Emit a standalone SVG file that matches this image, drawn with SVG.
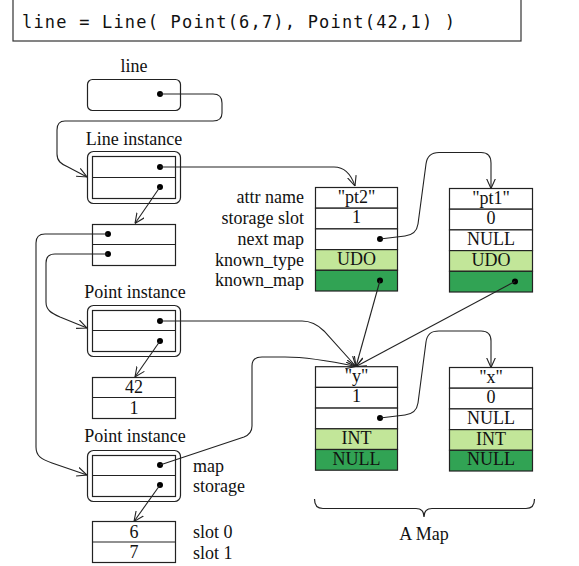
<svg xmlns="http://www.w3.org/2000/svg" width="579" height="566" viewBox="0 0 579 566">
<defs>
<style>
.t{font-family:"Liberation Serif","Times New Roman",serif;font-size:18px;fill:#111}
.c{text-anchor:middle}
.r{text-anchor:end}
.box{fill:#fff;stroke:#222;stroke-width:1.2}
.lt{fill:#c2e699;stroke:#222;stroke-width:1.2}
.dk{fill:#31a354;stroke:#222;stroke-width:1.2}
.rnd{fill:#fff;stroke:#222;stroke-width:1.2}
.ln{fill:none;stroke:#222;stroke-width:1.2}
.cn{fill:none;stroke:#222;stroke-width:1.1;marker-end:url(#ah)}
.dot{fill:#000}
</style>
<marker id="ah" viewBox="0 0 10 10" refX="10" refY="5" markerWidth="10" markerHeight="10" markerUnits="userSpaceOnUse" orient="auto">
<path d="M0,0.5 L10,5 L0,9.5" fill="none" stroke="#222" stroke-width="1.1"/>
</marker>
</defs>
<rect width="579" height="566" fill="#fff"/>

<g id="code">
<rect x="13" y="-5" width="508" height="46" fill="#fff" stroke="#333" stroke-width="1.2"/>
<text x="22" y="28" font-family="'DejaVu Sans Mono','Liberation Mono',monospace" font-size="17" fill="#111" textLength="433" lengthAdjust="spacing">line = Line( Point(6,7), Point(42,1) )</text>
</g>

<g id="line-var">
<text class="t c" x="134" y="72">line</text>
<rect class="rnd" x="87.5" y="79.5" width="93" height="31" rx="5"/>
<circle class="dot" cx="160" cy="94" r="3"/>
</g>

<g id="line-instance">
<text class="t c" x="134" y="145">Line instance</text>
<rect class="rnd" x="87.5" y="151.5" width="93" height="52" rx="6"/>
<rect class="box" x="92.5" y="156.5" width="83" height="42"/>
<line class="ln" x1="92.5" y1="177.5" x2="175.5" y2="177.5"/>
<circle class="dot" cx="160" cy="167" r="3"/>
<circle class="dot" cx="160" cy="187" r="3"/>
</g>

<g id="line-storage">
<rect class="box" x="92.5" y="224.5" width="83" height="41"/>
<line class="ln" x1="92.5" y1="244.5" x2="175.5" y2="244.5"/>
<circle class="dot" cx="108" cy="234" r="3"/>
<circle class="dot" cx="108" cy="254" r="3"/>
</g>

<g id="point-instance-1">
<text class="t c" x="135" y="298">Point instance</text>
<rect class="rnd" x="87.5" y="305.5" width="93" height="51" rx="6"/>
<rect class="box" x="92.5" y="310.5" width="83" height="41"/>
<line class="ln" x1="92.5" y1="330.5" x2="175.5" y2="330.5"/>
<circle class="dot" cx="160" cy="321" r="3"/>
<circle class="dot" cx="160" cy="341" r="3"/>
</g>

<g id="point-storage-1">
<rect class="box" x="92.5" y="377.5" width="83" height="41"/>
<line class="ln" x1="92.5" y1="397.5" x2="175.5" y2="397.5"/>
<text class="t c" x="134" y="393">42</text>
<text class="t c" x="134" y="413.5">1</text>
</g>

<g id="point-instance-2">
<text class="t c" x="135" y="442">Point instance</text>
<rect class="rnd" x="87.5" y="450.5" width="93" height="51" rx="6"/>
<rect class="box" x="92.5" y="455.5" width="83" height="41"/>
<line class="ln" x1="92.5" y1="475.5" x2="175.5" y2="475.5"/>
<circle class="dot" cx="160" cy="465" r="3"/>
<circle class="dot" cx="160" cy="485" r="3"/>
<text class="t" x="193" y="472">map</text>
<text class="t" x="193" y="492">storage</text>
</g>

<g id="point-storage-2">
<rect class="box" x="92.5" y="521.5" width="83" height="41"/>
<line class="ln" x1="92.5" y1="542" x2="175.5" y2="542"/>
<text class="t c" x="134" y="537.5">6</text>
<text class="t c" x="134" y="558">7</text>
<text class="t" x="193" y="538">slot 0</text>
<text class="t" x="193" y="559">slot 1</text>
</g>

<g id="row-labels">
<text class="t r" x="304" y="203">attr name</text>
<text class="t r" x="304" y="224">storage slot</text>
<text class="t r" x="304" y="245">next map</text>
<text class="t r" x="304" y="265.5">known_type</text>
<text class="t r" x="304" y="286">known_map</text>
</g>

<g id="map-pt2">
<rect class="box" x="315.5" y="187.5" width="82" height="20.7"/>
<rect class="box" x="315.5" y="208.2" width="82" height="20.7"/>
<rect class="box" x="315.5" y="228.9" width="82" height="20.7"/>
<rect class="lt" x="315.5" y="249.6" width="82" height="20.7"/>
<rect class="dk" x="315.5" y="270.3" width="82" height="20.7"/>
<text class="t c" x="356.5" y="202.5">"pt2"</text>
<text class="t c" x="356.5" y="223.2">1</text>
<text class="t c" x="356.5" y="264.6">UDO</text>
<circle class="dot" cx="380" cy="239" r="3"/>
<circle class="dot" cx="380" cy="280.5" r="3"/>
</g>

<g id="map-pt1">
<rect class="box" x="449.5" y="188.5" width="83" height="20.7"/>
<rect class="box" x="449.5" y="209.2" width="83" height="20.7"/>
<rect class="box" x="449.5" y="229.9" width="83" height="20.7"/>
<rect class="lt" x="449.5" y="250.6" width="83" height="20.7"/>
<rect class="dk" x="449.5" y="271.3" width="83" height="20.7"/>
<text class="t c" x="491" y="203.5">"pt1"</text>
<text class="t c" x="491" y="224.2">0</text>
<text class="t c" x="491" y="244.9">NULL</text>
<text class="t c" x="491" y="265.6">UDO</text>
<circle class="dot" cx="515" cy="281.5" r="3"/>
</g>

<g id="map-y">
<rect class="box" x="315.5" y="366.7" width="82" height="20.7"/>
<rect class="box" x="315.5" y="387.4" width="82" height="20.7"/>
<rect class="box" x="315.5" y="408.1" width="82" height="20.7"/>
<rect class="lt" x="315.5" y="428.8" width="82" height="20.7"/>
<rect class="dk" x="315.5" y="449.5" width="82" height="20.7"/>
<text class="t c" x="356.5" y="381.7">"y"</text>
<text class="t c" x="356.5" y="402.4">1</text>
<text class="t c" x="356.5" y="443.8">INT</text>
<text class="t c" x="356.5" y="464.5">NULL</text>
<circle class="dot" cx="380" cy="418" r="3"/>
</g>

<g id="map-x">
<rect class="box" x="449.5" y="367.5" width="83" height="20.7"/>
<rect class="box" x="449.5" y="388.2" width="83" height="20.7"/>
<rect class="box" x="449.5" y="408.9" width="83" height="20.7"/>
<rect class="lt" x="449.5" y="429.6" width="83" height="20.7"/>
<rect class="dk" x="449.5" y="450.3" width="83" height="20.7"/>
<text class="t c" x="491" y="382.5">"x"</text>
<text class="t c" x="491" y="403.2">0</text>
<text class="t c" x="491" y="423.9">NULL</text>
<text class="t c" x="491" y="444.6">INT</text>
<text class="t c" x="491" y="465.3">NULL</text>
</g>

<g id="a-map">
<path class="ln" d="M314.5,499 Q314.5,508.5 323,508.5 L416,508.5 Q424,508.5 424,517 Q424,508.5 432,508.5 L526,508.5 Q534.5,508.5 534.5,499"/>
<text class="t c" x="424" y="540">A Map</text>
</g>

<g id="connectors">
<path class="cn" d="M160,94 L213,94 C219,94 222,97 222,103 L222,113 C222,118 219,121 213,121 L65,121 C60,121 57,124 57,130 L57,154 C57,161 61,164 68,167 L87,177"/>
<path class="cn" d="M160,167 L334,167 C345,167 351,174 355,186"/>
<path class="cn" d="M160,187 L135,223.5"/>
<path class="cn" d="M108,234 L45,234 C39,234 36,237 36,243 L36,447 C36,456 41,459 52,463 L87,475"/>
<path class="cn" d="M108,254 L55,254 C49,254 46,257 46,263 L46,302 C46,310 51,313 60,317 L87,328"/>
<path class="cn" d="M160,341 L135,377"/>
<path class="cn" d="M160,485 L134,521.5"/>
<path class="cn" d="M160,321 L302,321 C312,321 318,325 324,331 L356,366.5"/>
<path class="cn" d="M160,465 L244,437 C249,435 252,432 252,426 L252,366 C252,360 255,357 262,357 L285,357 C305,357 330,361 356,366.5"/>
<path class="cn" d="M380,280.5 L356,366.5"/>
<path class="cn" d="M515,281.5 L356,366.5"/>
<path class="cn" d="M380,239 L405,236 C413,235 417,231 418,224 L426,164 C427,156 431,152.5 439,152.5 L481,152.5 C488,152.5 491,156 491,163 L491,188.5"/>
<path class="cn" d="M380,418 L405,415 C413,414 417,410 418,403 L426,342 C427,334 431,331 439,331 L481,331 C488,331 491,334 491,341 L491,367.5"/>
</g>
</svg>
